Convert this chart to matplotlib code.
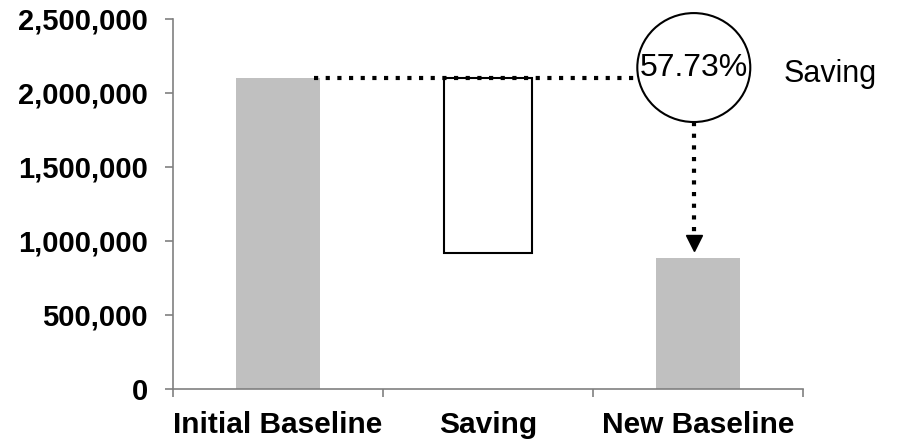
import numpy as np
import matplotlib
matplotlib.use("Agg")
import matplotlib.pyplot as plt
from matplotlib.patches import Ellipse
from matplotlib.ticker import FuncFormatter

plt.rcParams['font.family'] = ['Liberation Sans', 'DejaVu Sans']

# waterfall values
categories = ["Initial Baseline", "Saving", "New Baseline"]
initial_baseline = 2100000
saving_bottom = 917000
saving_pct = 57.73
new_baseline = initial_baseline * (1 - saving_pct / 100)
y_ticks = [0, 500000, 1000000, 1500000, 2000000, 2500000]

fig = plt.figure(figsize=(8.97, 4.42), dpi=100)
ax = fig.add_axes([173 / 897, 1 - 389 / 442, 630 / 897, 370 / 442])

x = np.arange(len(categories))
gray = "#c0c0c0"
ax.bar(x[0], initial_baseline, width=0.4, color=gray, zorder=2)
ax.bar(x[2], new_baseline, width=0.4, color=gray, zorder=2)
ax.bar(x[1], initial_baseline - saving_bottom, bottom=saving_bottom, width=0.42,
       facecolor="white", edgecolor="black", linewidth=1.5, zorder=2)

ax.set_xlim(-0.5, 2.5)
ax.set_ylim(0, 2500000)

# percentage bubble
circ_x = 1.98
circ_y = 2172000
circ_w = 0.538
circ_h = 736000
ax.add_patch(Ellipse((circ_x, circ_y), circ_w, circ_h, facecolor="none",
                     edgecolor="black", linewidth=1.5, clip_on=False, zorder=4))
ax.text(circ_x, circ_y, f"{saving_pct:.2f}%", ha="center", va="center",
        fontsize=23, zorder=5)
ax.text(2.41, initial_baseline + 30000, "Saving", ha="left", va="center",
        fontsize=22, clip_on=False)

# dotted connector from the initial bar to the bubble
ax.plot([x[0] + 0.17, circ_x - circ_w / 2], [initial_baseline, initial_baseline],
        color="black", linewidth=3, dashes=(1, 1.8), dash_capstyle="butt", zorder=3)

# dotted arrow from the bubble down to the new baseline
tip_y = new_baseline + 40000
ax.plot([circ_x, circ_x], [circ_y - circ_h / 2, tip_y + 120000],
        color="black", linewidth=3, dashes=(1, 1.8), dash_capstyle="butt", zorder=3)
ax.plot(circ_x, tip_y + 60000, marker="v", markersize=12, color="black",
        linestyle="none", zorder=3)

spine_color = "#808080"
for side in ["top", "right"]:
    ax.spines[side].set_visible(False)
for side in ["left", "bottom"]:
    ax.spines[side].set_color(spine_color)
    ax.spines[side].set_linewidth(1.2)

ax.set_yticks(y_ticks)
ax.yaxis.set_major_formatter(FuncFormatter(lambda v, p: f"{int(v):,}"))
ax.tick_params(axis="y", direction="out", length=6, width=1.2, color=spine_color,
               pad=12, labelsize=21)
for lbl in ax.get_yticklabels():
    lbl.set_fontweight("bold")

ax.set_xticks([-0.5, 0.5, 1.5, 2.5])
ax.set_xticklabels([])
ax.set_xticks(x, minor=True)
ax.set_xticklabels(categories, minor=True, fontsize=21.5, fontweight="bold")
ax.tick_params(axis="x", which="major", direction="out", length=6, width=1.2,
               color=spine_color)
ax.tick_params(axis="x", which="minor", length=0, pad=16)

fig.savefig("out.png", dpi=100)
